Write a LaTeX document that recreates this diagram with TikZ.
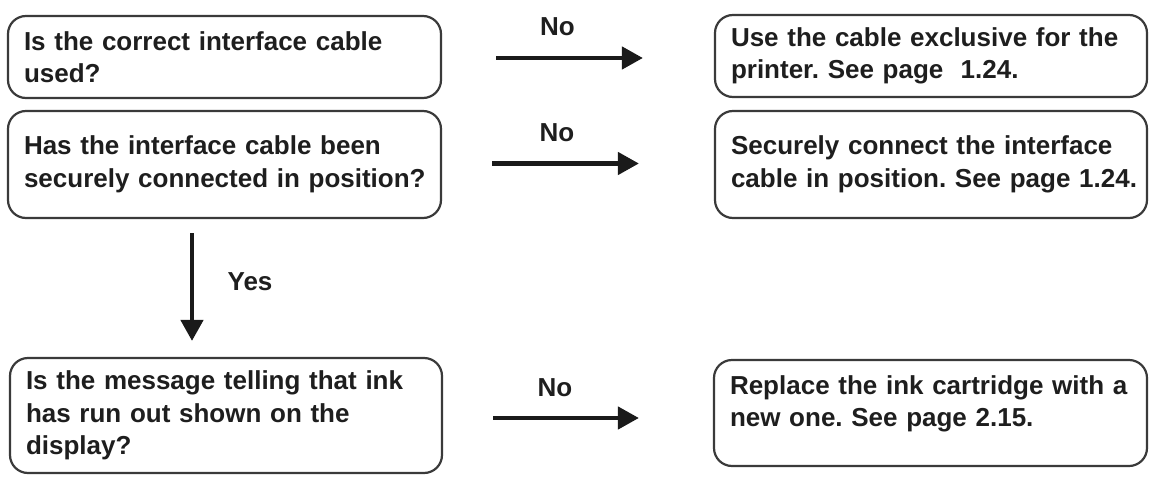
\documentclass[tikz,border=0pt]{standalone}
\usepackage{fontspec}
\setmainfont{Liberation Sans}
\usetikzlibrary{arrows.meta}
\definecolor{boxc}{HTML}{3A3A3A}
\definecolor{txt}{HTML}{1E1E1E}
\definecolor{arrc}{HTML}{1A1A1A}
\frenchspacing
\begin{document}
\begin{tikzpicture}[x=1pt,y=1pt,
  box/.style={draw=boxc, line width=2.2pt, rounded corners=18pt, align=left,
    inner xsep=16pt, inner ysep=2pt, text=txt,
    font=\fontsize{26}{32.5}\selectfont\bfseries, anchor=center},
  lab/.style={text=txt, inner sep=0pt, font=\fontsize{26}{30}\selectfont\bfseries},
  arr/.style={draw=arrc, line width=4.5pt, -{Triangle[length=21pt,width=22pt]}}]
\useasboundingbox (0,0) rectangle (1154,-479);
% left column
\node[box, text width=401pt, minimum height=82pt] (L1) at (224.5,-57)
  {\mbox{Is the correct interface cable}\\\mbox{used?}};
\node[box, text width=401pt, minimum height=107pt] (L2) at (224.5,-164.5)
  {\mbox{Has the interface cable been}\\\mbox{securely connected in position?}};
\node[box, text width=400pt, minimum height=115pt] (L3) at (226,-415.5)
  {\mbox{Is the message telling that ink}\\\mbox{has run out shown on the}\\\mbox{display?}};
% right column
\node[box, text width=400pt, minimum height=82pt] (R1) at (931,-56)
  {\mbox{Use the cable exclusive for the}\\\mbox{printer. See page\ \ 1.24.}};
\node[box, text width=400pt, minimum height=107pt] (R2) at (931,-164.5)
  {\mbox{Securely connect the interface}\\\mbox{cable in position. See page 1.24.}};
\node[box, text width=401pt, minimum height=106pt, text depth=56pt] (R3) at (930.5,-413)
  {\mbox{Replace the ink cartridge with a}\\\mbox{new one. See page 2.15.}};
% connectors
\draw[arr, shorten <=54pt, shorten >=71pt] ([yshift=-1pt]L1.east) -- ([yshift=-1pt]L1.east -| R1.west);
\draw[arr, shorten <=50pt, shorten >=75pt] ([yshift=1pt]L2.east) -- ([yshift=1pt]L2.east -| R2.west);
\draw[arr, shorten <=50pt, shorten >=74pt] ([yshift=-2.5pt]L3.east) -- ([yshift=-2.5pt]L3.east -| R3.west);
\draw[arr, shorten <=14pt, shorten >=16pt] ([xshift=-32.5pt]L2.south) -- ([xshift=-32.5pt]L2.south |- L3.north);
% labels
\node[lab] (n1) at (557.5,-27) {No};
\node[lab] (n2) at (557,-133) {No};
\node[lab] (n3) at (555,-388) {No};
\node[lab] (y1) at (250,-282) {Yes};
\end{tikzpicture}
\end{document}
